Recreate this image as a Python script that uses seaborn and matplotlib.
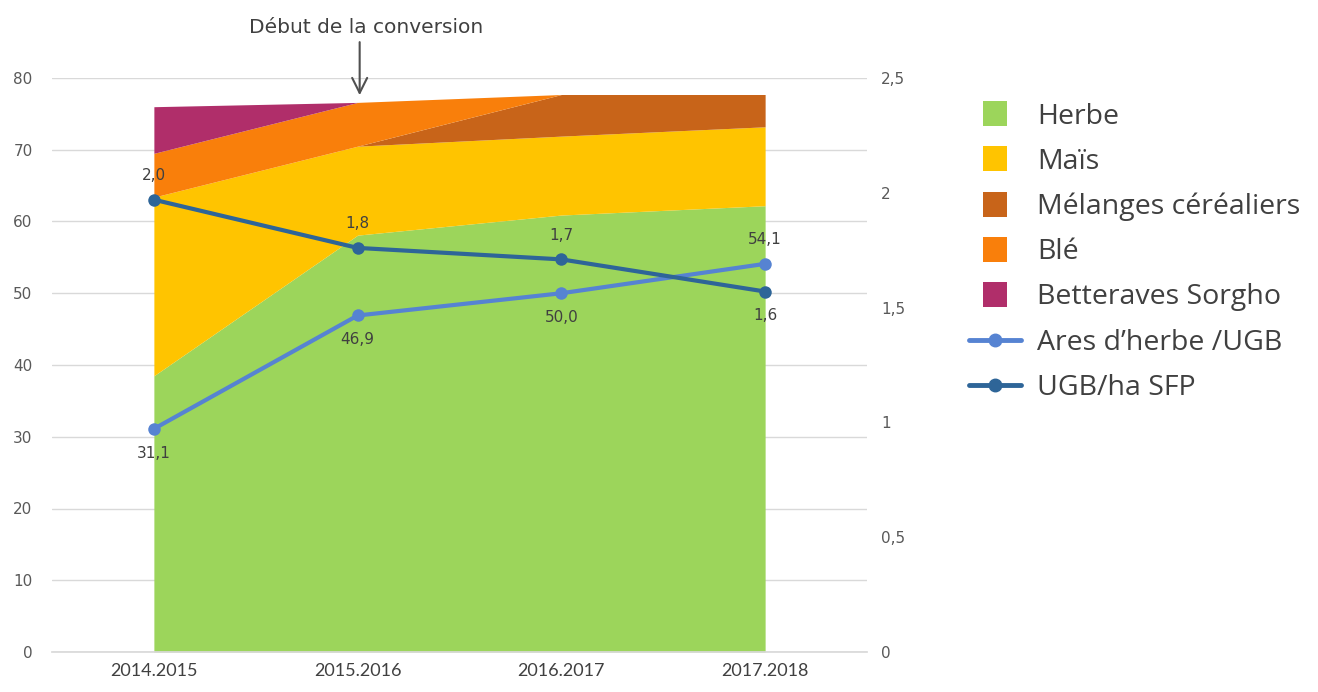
import numpy as np
import pandas as pd
import matplotlib
matplotlib.use('Agg')
import matplotlib.pyplot as plt
import seaborn as sns
from matplotlib.patches import Patch, Rectangle
from matplotlib.lines import Line2D
from matplotlib.legend_handler import HandlerPatch

# === DATA ===
CAMPAGNES = ['2014.2015', '2015.2016', '2016.2017', '2017.2018']
HERBE = [38.5, 58.1, 60.9, 62.2]
MAIS = [24.9, 12.4, 11.0, 11.0]
MELANGES = [0.0, 0.0, 5.8, 4.5]
BLE = [6.1, 6.1, 0.0, 0.0]
BETTERAVES = [6.5, 0.0, 0.0, 0.0]
ARES_HERBE_UGB = [31.1, 46.9, 50.0, 54.1]
UGB_HA_SFP = [1.97, 1.76, 1.71, 1.57]

AREA_NAMES = ['Herbe', 'Maïs', 'Mélanges céréaliers', 'Blé', 'Betteraves Sorgho']
AREA_COLORS = ['#9cd55b', '#ffc400', '#c86419', '#f97f0b', '#b02e6a']
COL_ARES = '#5683d2'
COL_UGB = '#2e6598'
TXT = '#404040'
GRID = '#d9d9d9'
# === END DATA ===

sns.set_theme(style='white')
plt.rcParams['font.family'] = ['DejaVu Sans']

df = pd.DataFrame({'campagne': CAMPAGNES, 'x': np.arange(len(CAMPAGNES)),
                   'ares': ARES_HERBE_UGB, 'ugb': UGB_HA_SFP})

fig = plt.figure(figsize=(13.18, 6.92), dpi=100)
ax = fig.add_axes([52 / 1318, 40 / 692, 815 / 1318, 574 / 692])
ax2 = ax.twinx()

# stacked areas
ax.stackplot(df['x'], HERBE, MAIS, MELANGES, BLE, BETTERAVES,
             colors=AREA_COLORS, linewidth=0, zorder=2)

# lines
sns.lineplot(data=df, x='x', y='ares', ax=ax, color=COL_ARES, linewidth=3,
             marker='o', markersize=9, markeredgewidth=0, zorder=4)
sns.lineplot(data=df, x='x', y='ugb', ax=ax2, color=COL_UGB, linewidth=3,
             marker='o', markersize=9, markeredgewidth=0, zorder=4)

ax.set_xlim(-0.5, 3.5)
ax.set_ylim(0, 80)
ax2.set_ylim(0, 2.5)
ax.set_yticks(range(0, 81, 10))
ax2.set_yticks([0, 0.5, 1, 1.5, 2, 2.5])
ax2.set_yticklabels(['0', '0,5', '1', '1,5', '2', '2,5'])
ax.yaxis.grid(True, color=GRID, linewidth=1)
ax.set_axisbelow(True)
ax.set_xticks(df['x'])
ax.set_xticklabels(CAMPAGNES, fontsize=13, color=TXT, family='Lato')
ax.set_xticks(np.arange(-0.5, 3.6, 1), minor=True)
ax.tick_params(axis='x', which='major', length=0, pad=8)
ax.tick_params(axis='x', which='minor', length=8, color=GRID, width=1)
ax.tick_params(axis='y', length=0, labelsize=11, labelcolor='#595959', pad=14)
ax2.tick_params(axis='y', length=0, labelsize=11, labelcolor='#595959', pad=10)
ax.set_xlabel('')
ax.set_ylabel('')
ax2.set_ylabel('')
for a in (ax, ax2):
    for s in a.spines.values():
        s.set_visible(False)
ax.spines['bottom'].set_visible(True)
ax.spines['bottom'].set_color(GRID)

# data labels
for x, v in zip(df['x'], ARES_HERBE_UGB):
    off = 12 if x == 3 else -12
    ax.annotate(f'{v:.1f}'.replace('.', ','), (x, v), xytext=(0, off),
                textcoords='offset points', ha='center',
                va='bottom' if off > 0 else 'top', fontsize=11, color=TXT)
for x, v in zip(df['x'], UGB_HA_SFP):
    off = -12 if x == 3 else 12
    ax2.annotate(f'{v:.1f}'.replace('.', ','), (x, v), xytext=(0, off),
                 textcoords='offset points', ha='center',
                 va='bottom' if off > 0 else 'top', fontsize=11, color=TXT)

# conversion marker
ax.text(1.04, 87.0, 'Début de la conversion', ha='center', va='center',
        fontsize=14.5, color=TXT, clip_on=False)
ax.annotate('', xy=(1.01, 77.6), xytext=(1.01, 85.0), annotation_clip=False,
            arrowprops=dict(arrowstyle='->,head_length=0.9,head_width=0.45',
                            color='#505050', lw=1.5, shrinkA=0, shrinkB=0))


class SquareHandler(HandlerPatch):
    def create_artists(self, legend, orig_handle, xdescent, ydescent,
                       width, height, fontsize, trans):
        side = height * 1.25
        x0 = -xdescent + (width - side) / 2
        y0 = -ydescent + (height - side) / 2
        r = Rectangle((x0, y0), side, side, facecolor=orig_handle.get_facecolor(),
                      edgecolor='none', transform=trans)
        return [r]


# legend
handles = [Patch(facecolor=c, edgecolor='none') for c in AREA_COLORS]
handles += [Line2D([], [], color=COL_ARES, lw=3.5, marker='o', markersize=9),
            Line2D([], [], color=COL_UGB, lw=3.5, marker='o', markersize=9)]
labels = AREA_NAMES + ['Ares d\u2019herbe /UGB', 'UGB/ha SFP']
fig.legend(handles, labels, loc='upper left',
           bbox_to_anchor=(943 / 1318, 1 - 77 / 692),
           frameon=False, prop={'family': 'Open Sans', 'size': 20.5},
           labelcolor=TXT, handlelength=1.85, handleheight=0.7,
           handletextpad=0.55, labelspacing=0.6,
           handler_map={Patch: SquareHandler()})

plt.savefig('out.png', dpi=100)
